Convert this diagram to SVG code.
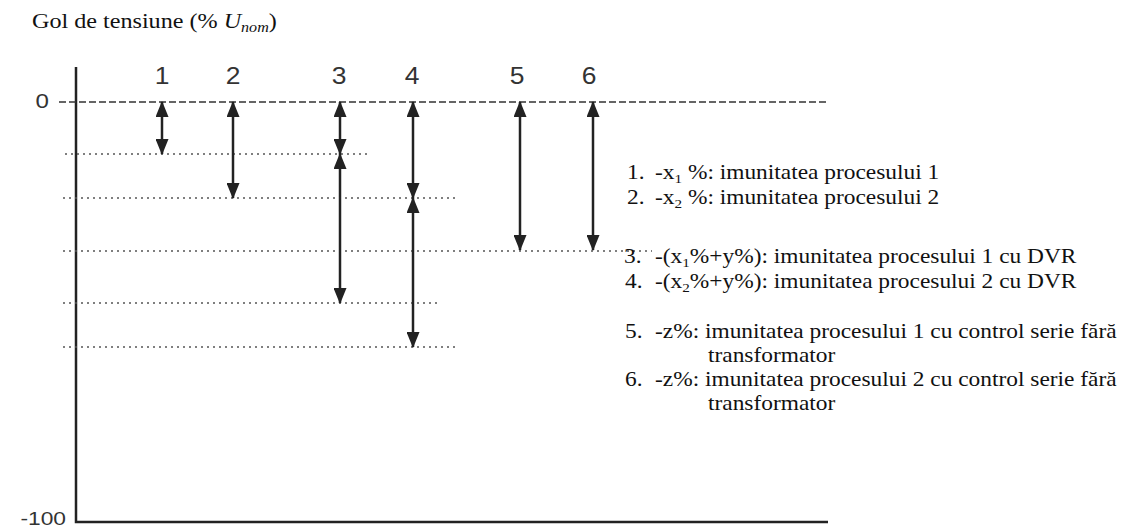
<svg xmlns="http://www.w3.org/2000/svg" width="1133" height="527" viewBox="0 0 1133 527">
  <style>
    .serif { font-family: "Liberation Serif", "DejaVu Serif", "Noto Serif", serif; fill: #111; }
    .sans { font-family: "Liberation Sans", "DejaVu Sans", sans-serif; fill: #333; }
    .leg { font-size: 20px; }
    .num { font-size: 23px; text-anchor: middle; }
    .axis { stroke: #222; stroke-width: 2.5; fill: none; }
    .zero { stroke: #333; stroke-width: 1.3; stroke-dasharray: 7 3; fill: none; }
    .dot { stroke: #555; stroke-width: 1.4; stroke-dasharray: 2 4; fill: none; }
    .arr { stroke: #222; stroke-width: 2.5; fill: none; marker-start: url(#ah); marker-end: url(#ah); }
  </style>
  <defs>
    <marker id="ah" viewBox="0 0 16 13" refX="15" refY="6.5" markerWidth="16" markerHeight="13" markerUnits="userSpaceOnUse" orient="auto-start-reverse">
      <path d="M0,0 L16,6.5 L0,13 Z" fill="#222"/>
    </marker>
  </defs>
  <rect width="1133" height="527" fill="#fff"/>

  <g id="title">
    <text class="serif" font-family="Liberation Serif, serif" font-size="21" transform="translate(32 28) scale(1.15 1)">Gol de tensiune (% <tspan font-style="italic">U</tspan><tspan font-style="italic" font-size="14" dy="4">nom</tspan><tspan dy="-4">)</tspan></text>
  </g>

  <g id="axes">
    <path class="axis" d="M76,67 V522 H828"/>
    <text class="sans" font-size="21" text-anchor="end" transform="translate(49 108) scale(1.15 1)">0</text>
    <text class="sans" font-size="19" text-anchor="end" transform="translate(66 525) scale(1.2 1)">-100</text>
  </g>

  <g id="gridlines">
    <line class="zero" x1="59" y1="102" x2="828" y2="102"/>
    <line class="dot" x1="65" y1="154" x2="367" y2="154"/>
    <line class="dot" x1="63" y1="198" x2="457" y2="198"/>
    <line class="dot" x1="63" y1="251" x2="652" y2="251"/>
    <line class="dot" x1="63" y1="303" x2="439" y2="303"/>
    <line class="dot" x1="63" y1="347" x2="457" y2="347"/>
  </g>

  <g id="labels">
    <text class="sans num" transform="translate(162 84) scale(1.15 1)">1</text>
    <text class="sans num" transform="translate(233 84) scale(1.15 1)">2</text>
    <text class="sans num" transform="translate(339 84) scale(1.15 1)">3</text>
    <text class="sans num" transform="translate(412 84) scale(1.15 1)">4</text>
    <text class="sans num" transform="translate(517 84) scale(1.15 1)">5</text>
    <text class="sans num" transform="translate(589 84) scale(1.15 1)">6</text>
  </g>

  <g id="connectors">
    <line class="arr" x1="162" y1="102" x2="162" y2="154"/>
    <line class="arr" x1="233" y1="102" x2="233" y2="198"/>
    <line class="arr" x1="340" y1="102" x2="340" y2="154"/>
    <line class="arr" x1="340" y1="154" x2="340" y2="303"/>
    <line class="arr" x1="413" y1="102" x2="413" y2="198"/>
    <line class="arr" x1="413" y1="198" x2="413" y2="347"/>
    <line class="arr" x1="520" y1="102" x2="520" y2="250"/>
    <line class="arr" x1="593" y1="102" x2="593" y2="250"/>
  </g>

  <g id="legend" font-family="Liberation Serif, serif">
    <text class="serif leg" transform="translate(627 179) scale(1.17 1)">1.</text>
    <text class="serif leg" transform="translate(655 179) scale(1.17 1)">-x<tspan font-size="13" dy="4">1</tspan><tspan dy="-4"> %: imunitatea procesului 1</tspan></text>
    <text class="serif leg" transform="translate(627 204) scale(1.17 1)">2.</text>
    <text class="serif leg" transform="translate(655 204) scale(1.17 1)">-x<tspan font-size="13" dy="4">2</tspan><tspan dy="-4"> %: imunitatea procesului 2</tspan></text>
    <text class="serif leg" transform="translate(624 263) scale(1.17 1)">3.</text>
    <text class="serif leg" transform="translate(655 263) scale(1.17 1)">-(x<tspan font-size="13" dy="4">1</tspan><tspan dy="-4">%+y%): imunitatea procesului 1 cu DVR</tspan></text>
    <text class="serif leg" transform="translate(625 288) scale(1.17 1)">4.</text>
    <text class="serif leg" transform="translate(655 288) scale(1.17 1)">-(x<tspan font-size="13" dy="4">2</tspan><tspan dy="-4">%+y%): imunitatea procesului 2 cu DVR</tspan></text>
    <text class="serif leg" transform="translate(625 338) scale(1.17 1)">5.</text>
    <text class="serif leg" transform="translate(655 338) scale(1.17 1)">-z%: imunitatea procesului 1 cu control serie fără</text>
    <text class="serif leg" transform="translate(708 362) scale(1.17 1)">transformator</text>
    <text class="serif leg" transform="translate(625 386) scale(1.17 1)">6.</text>
    <text class="serif leg" transform="translate(655 386) scale(1.17 1)">-z%: imunitatea procesului 2 cu control serie fără</text>
    <text class="serif leg" transform="translate(708 410) scale(1.17 1)">transformator</text>
  </g>
</svg>
